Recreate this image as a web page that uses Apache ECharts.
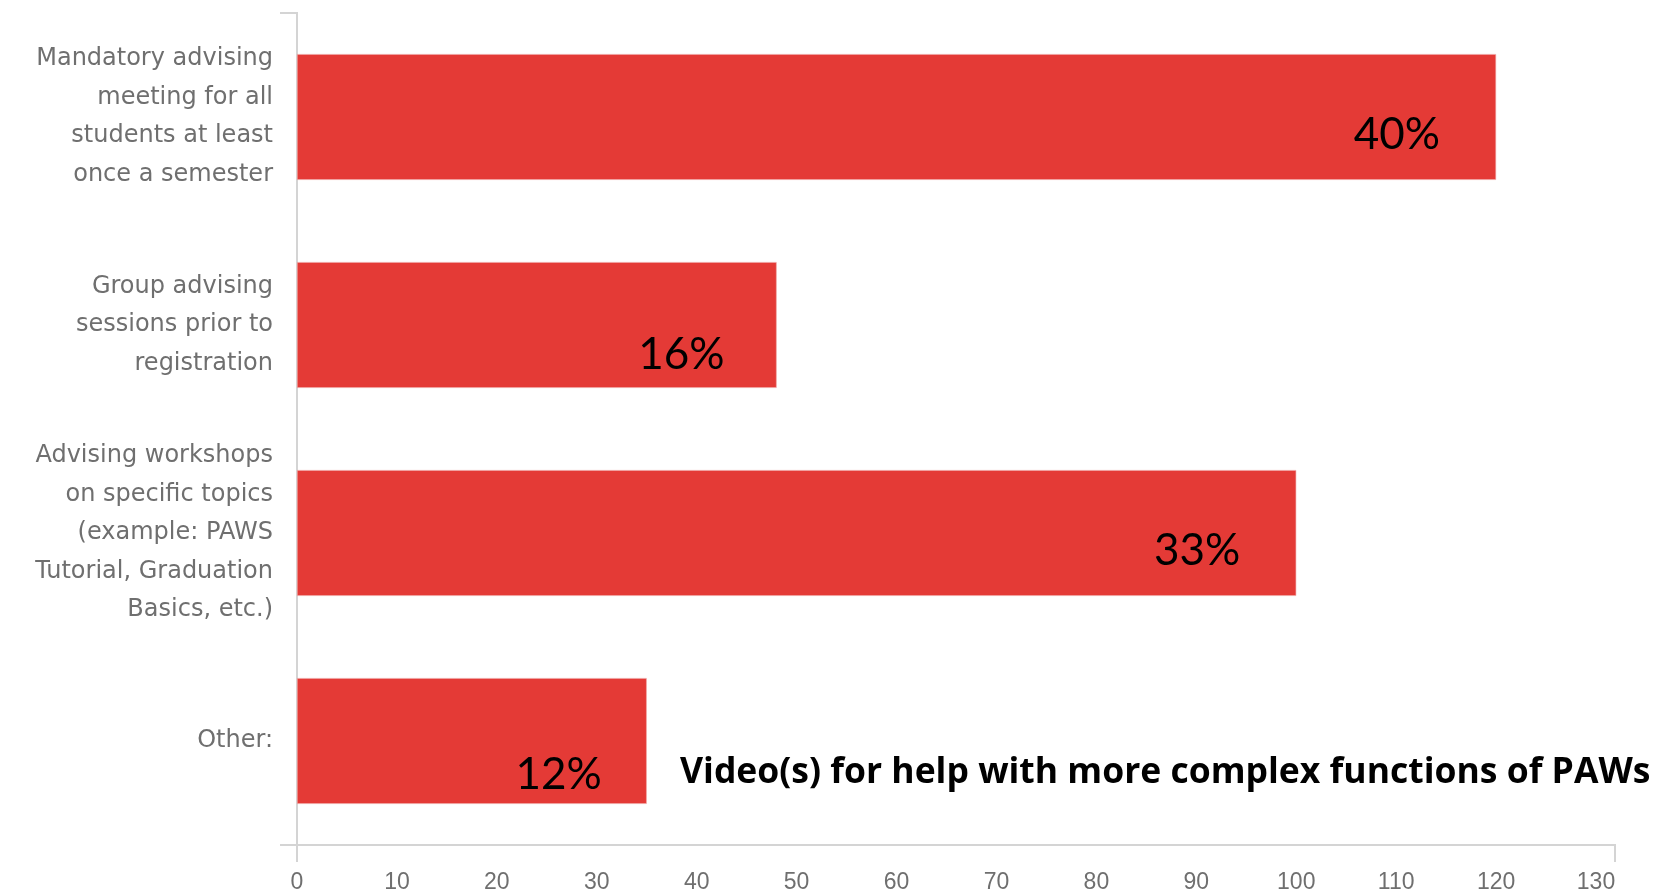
<!DOCTYPE html>
<html>
<head>
<meta charset="utf-8">
<title>Advising preferences</title>
<script src="https://cdn.jsdelivr.net/npm/echarts@6/dist/echarts.min.js"></script>
<style>
  html, body { margin: 0; padding: 0; background: #ffffff; }
  #chart { width: 1672px; height: 892px; }
</style>
</head>
<body>
<div id="chart"></div>
<script>
// Answer options (wrapped the way they appear beside the bars)
const categories = [
  'Mandatory advising\nmeeting for all\nstudents at least\nonce a semester',
  'Group advising\nsessions prior to\nregistration',
  'Advising workshops\non specific topics\n(example: PAWS\nTutorial, Graduation\nBasics, etc.)',
  'Other:'
];
// Number of responses per option
const responses = [120, 48, 100, 35];
// Value axis range and step
const axisMin = 0;
const axisMax = 130;
const axisStep = 10;
// Free-text answer written next to the "Other:" bar
const otherNote = 'Video(s) for help with more complex functions of PAWs';

const total = responses.reduce((a, b) => a + b, 0);
const pct = v => Math.round(v / total * 100) + '%';

// Plot area
const G = { left: 297, right: 76, top: 13, bottom: 47 };
const W = 1672, H = 892;
const RED = '#e43a36';
const AXIS_GREY = '#d4d4d4';
const TEXT_GREY = '#6f6f6f';

// Where each percentage sits relative to the end of its bar
const labelNudge = [[-56, 18], [-52, 30], [-56, 18], [-45, 34]];

const chart = echarts.init(document.getElementById('chart'), null, { renderer: 'canvas' });

const plotRight = W - G.right;
const plotBottom = H - G.bottom;

chart.setOption({
  animation: false,
  backgroundColor: '#ffffff',
  grid: { left: G.left, right: G.right, top: G.top, bottom: G.bottom, containLabel: false, outerBoundsMode: 'none' },
  xAxis: {
    type: 'value',
    min: axisMin,
    max: axisMax,
    interval: axisStep,
    splitLine: { show: false },
    axisLine: { show: false },
    axisTick: { show: false },
    axisLabel: {
      margin: 26,
      color: TEXT_GREY,
      fontFamily: 'Liberation Sans',
      fontSize: 23
    }
  },
  yAxis: {
    type: 'category',
    inverse: true,
    data: categories,
    axisLine: { show: false },
    axisTick: { show: false },
    axisLabel: {
      margin: 24,
      color: TEXT_GREY,
      fontFamily: 'DejaVu Sans',
      fontSize: 24,
      lineHeight: 38.5,
      align: 'right'
    }
  },
  series: [{
    type: 'bar',
    data: responses.map((v, i) => ({
      value: v,
      label: { offset: labelNudge[i] }
    })),
    barCategoryGap: '39.5%',
    itemStyle: { color: RED, borderColor: '#f0a8a6', borderWidth: 0.6 },
    label: {
      show: true,
      position: 'insideRight',
      distance: 0,
      formatter: p => pct(p.value),
      color: '#000000',
      fontFamily: 'Lato',
      fontSize: 44
    }
  }],
  graphic: [
    // horizontal axis, overshooting on the left and capped with a tick on the right
    {
      type: 'polyline',
      silent: true,
      shape: { points: [[G.left - 17, plotBottom], [plotRight + 19, plotBottom], [plotRight + 19, plotBottom + 17]] },
      style: { stroke: AXIS_GREY, lineWidth: 2, fill: null }
    },
    // vertical axis with its small tick at the top
    {
      type: 'polyline',
      silent: true,
      shape: { points: [[G.left - 17, G.top], [G.left, G.top], [G.left, plotBottom + 17]] },
      style: { stroke: AXIS_GREY, lineWidth: 2, fill: null }
    },
    {
      type: 'text',
      silent: true,
      x: 680,
      y: 773,
      style: {
        text: otherNote,
        fill: '#000000',
        font: 'bold 35.5px "Open Sans"',
        textAlign: 'left',
        textVerticalAlign: 'middle'
      }
    }
  ]
});
</script>
</body>
</html>
